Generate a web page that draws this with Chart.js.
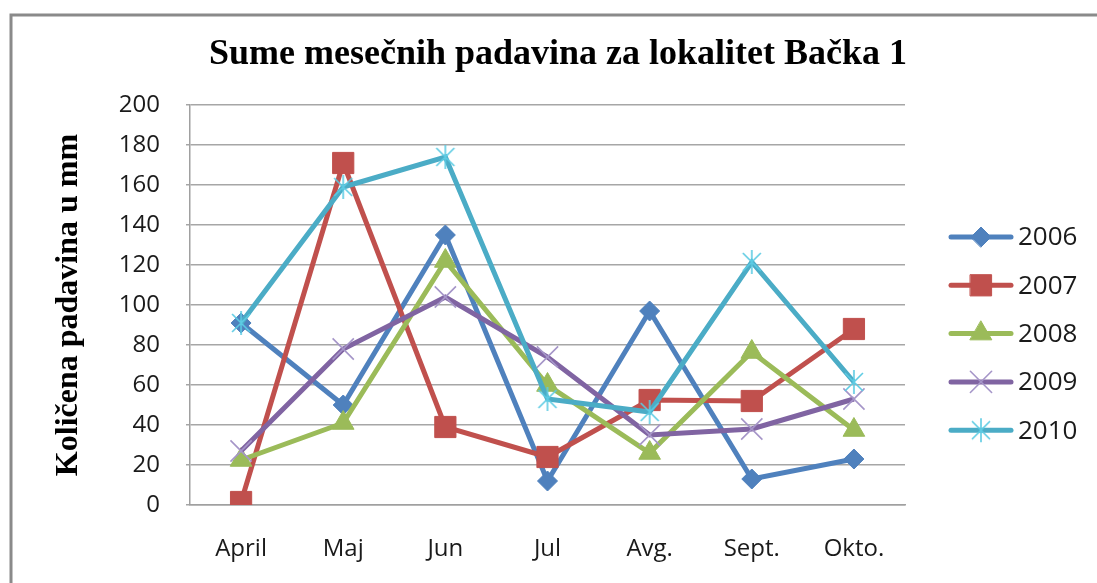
<!DOCTYPE html>
<html>
<head>
<meta charset="utf-8">
<script src="https://cdn.jsdelivr.net/npm/chart.js@4/dist/chart.umd.min.js"></script>
<style>
html,body{margin:0;padding:0;background:#fff;}
#wrap{position:relative;width:1097px;height:583px;}
</style>
</head>
<body>
<div id="wrap"><canvas id="c" width="1097" height="583"></canvas></div>
<script>
const categories = ["April", "Maj", "Jun", "Jul", "Avg.", "Sept.", "Okto."];
const seriesNames = ["2006", "2007", "2008", "2009", "2010"];
const s2006 = [91, 50, 135, 12, 97, 13, 23];
const s2007 = [1.5, 171, 39, 24, 52.5, 52, 88];
const s2008 = [22.5, 41, 122, 60, 26, 76.5, 37.5];
const s2009 = [27, 78, 104, 74, 35, 38, 53];
const s2010 = [91, 159, 174, 53, 46.5, 121.5, 61.5];
const yTicks = [0, 20, 40, 60, 80, 100, 120, 140, 160, 180, 200];
const titleText = "Sume mesečnih padavina za lokalitet Bačka 1";
const yTitleText = "Količena padavina u mm";

// Excel-like asterisk marker (X plus vertical bar)
function makeStar(color) {
  const c = document.createElement('canvas');
  c.width = 26; c.height = 26;
  const g = c.getContext('2d');
  g.strokeStyle = color; g.lineWidth = 1.6;
  g.beginPath();
  g.moveTo(13, 1); g.lineTo(13, 25);
  g.moveTo(4, 4); g.lineTo(22, 22);
  g.moveTo(22, 4); g.lineTo(4, 22);
  g.stroke();
  return c;
}
const starImg = makeStar('#5ccbe3');

const colors = ['#4F81BD', '#C0504D', '#9BBB59', '#8064A2', '#4BACC6'];
const values = [s2006, s2007, s2008, s2009, s2010];
const pStyles = ['rectRot', 'rect', 'triangle', 'crossRot', starImg];
const pRadius = [10, 15, 12.5, 15, 13];
const pBorder = [colors[0], colors[1], colors[2], '#a595c8', '#5ccbe3'];
const pBorderW = [1, 1, 1, 1.6, 1.6];

const datasets = seriesNames.map((n, i) => ({
  label: n,
  data: values[i],
  borderColor: colors[i],
  backgroundColor: colors[i],
  borderWidth: 5,
  tension: 0,
  pointStyle: pStyles[i],
  pointRadius: pRadius[i],
  pointHoverRadius: pRadius[i],
  pointBackgroundColor: colors[i],
  pointBorderColor: pBorder[i],
  pointBorderWidth: pBorderW[i],
  order: 5 - i
}));

const framePlugin = {
  id: 'frame',
  beforeDraw(chart) {
    const ctx = chart.ctx;
    ctx.save();
    ctx.fillStyle = '#ffffff';
    ctx.fillRect(0, 0, chart.width, chart.height);
    ctx.strokeStyle = '#8a8a8a';
    ctx.lineWidth = 3;
    ctx.beginPath();
    ctx.moveTo(11, chart.height + 5);
    ctx.lineTo(11, 15);
    ctx.lineTo(chart.width + 5, 15);
    ctx.stroke();
    // chart title
    ctx.fillStyle = '#000';
    ctx.font = 'bold 36px "Liberation Serif", "Times New Roman", serif';
    ctx.textAlign = 'center';
    ctx.textBaseline = 'middle';
    ctx.fillText(titleText, 558, 55);
    ctx.restore();
  }
};

const legendPlugin = {
  id: 'sideLegend',
  afterDraw(chart) {
    const ctx = chart.ctx;
    ctx.save();
    chart.data.datasets.forEach((ds, i) => {
      const y = 237 + i * 48.3;
      ctx.strokeStyle = ds.borderColor;
      ctx.lineWidth = 5;
      ctx.lineCap = 'round';
      ctx.beginPath();
      ctx.moveTo(951, y); ctx.lineTo(1011, y);
      ctx.stroke();
      ctx.fillStyle = ds.pointBackgroundColor;
      ctx.strokeStyle = ds.pointBorderColor;
      ctx.lineWidth = ds.pointBorderWidth;
      Chart.helpers.drawPoint(ctx, {pointStyle: ds.pointStyle, radius: ds.pointRadius, rotation: 0, borderWidth: ds.pointBorderWidth}, 981, y);
      ctx.fillStyle = '#1a1a1a';
      ctx.font = '26px "Open Sans"';
      ctx.textBaseline = 'middle';
      ctx.textAlign = 'left';
      ctx.fillText(ds.label, 1018, y + 1);
    });
    ctx.restore();
  }
};

new Chart(document.getElementById('c'), {
  type: 'line',
  data: { labels: categories, datasets },
  plugins: [framePlugin, legendPlugin],
  options: {
    responsive: false,
    animation: false,
    events: [],
    layout: { padding: { left: 0, right: 192, top: 105, bottom: 0 } },
    plugins: {
      legend: { display: false },
      tooltip: { enabled: false },
      title: { display: false }
    },
    scales: {
      x: {
        offset: true,
        grid: { display: false, drawTicks: false },
        border: { display: true, color: '#a0a0a0', width: 1.5 },
        ticks: { color: '#1a1a1a', font: { family: '"Open Sans"', size: 24 }, padding: 30, maxRotation: 0, autoSkip: false },
        afterFit(s) { s.height = 78; }
      },
      y: {
        min: 0, max: 200,
        afterBuildTicks(s) { s.ticks = yTicks.map(v => ({ value: v })); },
        grid: { color: '#a6a6a6', lineWidth: 1.5, tickLength: 4, drawTicks: true },
        border: { display: true, color: '#a0a0a0', width: 1.5 },
        ticks: { color: '#1a1a1a', font: { family: '"Open Sans"', size: 24 }, padding: 26 },
        title: {
          display: true,
          text: yTitleText,
          color: '#000',
          font: { family: '"Liberation Serif", "Times New Roman", serif', size: 32, weight: 'bold' },
          padding: { top: 50, bottom: 0 }
        },
        afterFit(s) { s.width = 190; }
      }
    }
  }
});
</script>
</body>
</html>
